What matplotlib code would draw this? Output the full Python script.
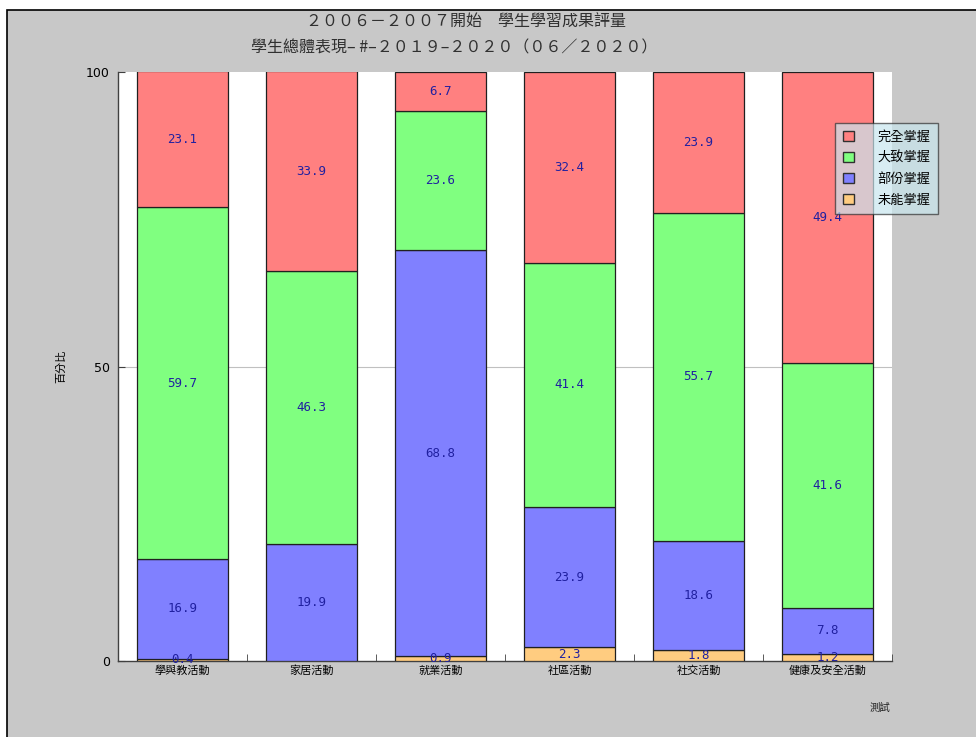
#!/usr/bin/env python3
# -*- coding: utf-8 -*-
import numpy as np
import matplotlib
matplotlib.use('Agg')
import matplotlib.pyplot as plt
from matplotlib.patches import Rectangle, Patch

plt.rcParams['font.family'] = ['Noto Sans CJK TC', 'DejaVu Sans']

# --- data ---
categories = ['學與教活動', '家居活動', '就業活動', '社區活動', '社交活動', '健康及安全活動']
series_names = ['完全掌握', '大致掌握', '部份掌握', '未能掌握']
full = [23.1, 33.9, 6.7, 32.4, 23.9, 49.4]      # 完全掌握
mostly = [59.7, 46.3, 23.6, 41.4, 55.7, 41.6]   # 大致掌握
partly = [16.9, 19.9, 68.8, 23.9, 18.6, 7.8]    # 部份掌握
none_ = [0.4, 0.0, 0.9, 2.3, 1.8, 1.2]          # 未能掌握
colors = ['#FF8080', '#80FF80', '#8080FF', '#FFCC80']

title1 = '２００６－２００７開始　學生學習成果評量'
title2 = '學生總體表現– #–２０１９–２０２０（０６／２０２０）'


def main():
    fig = plt.figure(figsize=(9.76, 7.37), dpi=100)
    fig.patch.set_facecolor('white')
    # gray panel with black border (right/bottom edges fall off the image)
    fig.patches.append(Rectangle((7 / 976, -0.1), 1.2, 1.1 - 10 / 737, transform=fig.transFigure,
                                 facecolor='#C8C8C8', edgecolor='black', linewidth=1.2, zorder=-10))

    ax = fig.add_axes([118 / 976, 1 - 661 / 737, 774 / 976, 589 / 737])
    ax.set_facecolor('white')

    x = np.arange(len(categories))
    width = 0.705
    # stacked from bottom: 未能 -> 部份 -> 大致 -> 完全
    stack = [(none_, colors[3]), (partly, colors[2]), (mostly, colors[1]), (full, colors[0])]
    bottom = np.zeros(len(categories))
    for vals, col in stack:
        vals = np.array(vals)
        ax.bar(x, vals, width, bottom=bottom, color=col, edgecolor='#202020', linewidth=0.9, zorder=3)
        for i, v in enumerate(vals):
            if v > 0:
                ax.text(x[i], bottom[i] + v / 2, f'{v:.1f}', ha='center', va='center',
                        fontsize=9, color='#2020A0', family=['DejaVu Sans Mono'], zorder=5)
        bottom += vals

    ax.set_xlim(-0.5, len(categories) - 0.5)
    ax.set_ylim(0, 100)
    ax.axhline(50, color='#C0C0C0', linewidth=0.8, zorder=1)

    ax.set_yticks([0, 50, 100])
    ax.set_yticklabels(['0', '50', '100'], fontsize=9, family=['DejaVu Sans'])
    ax.set_xticks(x)
    ax.set_xticklabels(categories, fontsize=8)
    ax.tick_params(axis='x', length=0, pad=3)
    ax.set_xticks(np.arange(len(categories)) + 0.5, minor=True)
    ax.tick_params(axis='x', which='minor', direction='in', length=5, color='#404040')
    ax.tick_params(axis='y', direction='in', length=5, color='#404040', pad=6)
    for s in ['top', 'right']:
        ax.spines[s].set_visible(False)
    for s in ['left', 'bottom']:
        ax.spines[s].set_color('#404040')
        ax.spines[s].set_linewidth(1.0)

    ax.set_ylabel('百分比', fontsize=8, labelpad=14)

    handles = [Patch(facecolor=c, edgecolor='#303030', linewidth=1.0) for c in colors]
    leg = ax.legend(handles, series_names, loc='upper left', bbox_to_anchor=(0.918, 0.925),
                    fontsize=9.5, frameon=True, fancybox=False, borderpad=0.6,
                    handlelength=0.8, handleheight=0.8, handletextpad=1.8, labelspacing=0.6)
    leg.get_frame().set_facecolor('#C8E6EE')
    leg.get_frame().set_alpha(0.7)
    leg.get_frame().set_edgecolor('#303030')
    leg.set_zorder(10)

    fig.text(466 / 976, 1 - 22 / 737, title1, ha='center', va='center', fontsize=11.5, color='#303030')
    fig.text(454 / 976, 1 - 48 / 737, title2, ha='center', va='center', fontsize=11.5, color='#303030')
    fig.text(880 / 976, 1 - 708 / 737, '測試', ha='center', va='center', fontsize=7.5, color='#202020')

    fig.savefig('out.png', dpi=100)


if __name__ == '__main__':
    main()
